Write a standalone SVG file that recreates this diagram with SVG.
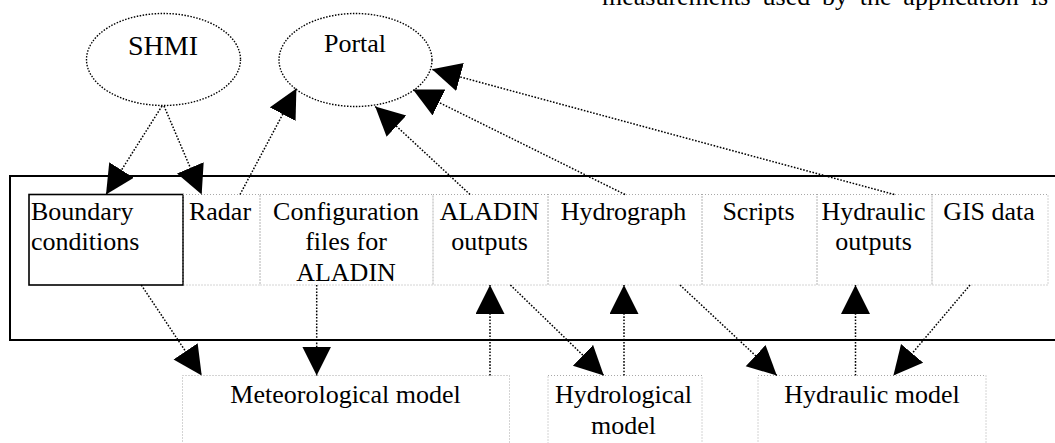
<svg xmlns="http://www.w3.org/2000/svg" width="1055" height="443" viewBox="0 0 1055 443">
<style>
text{font-family:"Liberation Serif","Times New Roman",serif;font-size:26px;fill:#000}
.c{text-anchor:middle}
.cell{fill:none;stroke:#a8a8a8;stroke-width:1;stroke-dasharray:1 2}
.ell{fill:none;stroke:#000;stroke-width:1.4;stroke-dasharray:1.5 1.5}
.edge{fill:none;stroke:#000;stroke-width:1.5;stroke-dasharray:1.6 1.6}
</style>
<defs>
<marker id="ah" markerUnits="userSpaceOnUse" markerWidth="30" markerHeight="30" viewBox="0 0 30 30" refX="29" refY="14.5" orient="auto">
<path d="M0,0 L29,14.5 L0,29 Z" fill="#000"/>
</marker>
</defs>
<rect x="0" y="0" width="1055" height="443" fill="#fff"/>
<text x="602" y="5" word-spacing="5.3">measurements used by the application is</text>
<rect id="container" x="10" y="176" width="1060" height="164" fill="none" stroke="#000" stroke-width="2"/>
<g id="shmi"><ellipse class="ell" cx="163.5" cy="59.5" rx="77" ry="46"/><text class="c" x="163" y="55" style="font-size:28px">SHMI</text></g>
<g id="portal"><ellipse class="ell" cx="355.5" cy="60" rx="76.5" ry="46.5"/><text class="c" x="355" y="51.5">Portal</text></g>
<g id="boundary"><rect x="29" y="194.5" width="154" height="90.5" fill="none" stroke="#000" stroke-width="1.6"/><text x="31" y="219.5">Boundary</text><text x="31" y="250">conditions</text></g>
<g id="radar"><rect class="cell" x="183" y="194.5" width="77" height="90.5"/><text class="c" x="220" y="219.5">Radar</text></g>
<g id="config"><rect class="cell" x="260" y="194.5" width="173" height="90.5"/><text class="c" x="346" y="219.5">Configuration</text><text class="c" x="346" y="250">files for</text><text class="c" x="346" y="280.5">ALADIN</text></g>
<g id="aladin-out"><rect class="cell" x="433" y="194.5" width="115" height="90.5"/><text class="c" x="489.5" y="219.5">ALADIN</text><text class="c" x="489.5" y="250">outputs</text></g>
<g id="hydrograph"><rect class="cell" x="548" y="194.5" width="154" height="90.5"/><text class="c" x="623.5" y="219.5">Hydrograph</text></g>
<g id="scripts"><rect class="cell" x="702" y="194.5" width="115" height="90.5"/><text class="c" x="758.5" y="219.5">Scripts</text></g>
<g id="hydraulic-out"><rect class="cell" x="817" y="194.5" width="115" height="90.5"/><text class="c" x="873.5" y="219.5">Hydraulic</text><text class="c" x="873.5" y="250">outputs</text></g>
<g id="gis"><rect class="cell" x="932" y="194.5" width="116" height="90.5"/><text class="c" x="989" y="219.5">GIS data</text></g>
<g id="meteo"><rect class="cell" x="182.5" y="375.5" width="327" height="90"/><text class="c" x="345.5" y="402.5">Meteorological model</text></g>
<g id="hydrological"><rect class="cell" x="548" y="375.5" width="154" height="90"/><text class="c" x="623.5" y="402.5">Hydrological</text><text class="c" x="623.5" y="433.5">model</text></g>
<g id="hydraulic-model"><rect class="cell" x="758" y="375.5" width="228" height="90"/><text class="c" x="872" y="402.5">Hydraulic model</text></g>
<g id="connectors">
<line class="edge" x1="162" y1="106" x2="106" y2="194.5" marker-end="url(#ah)"/>
<line class="edge" x1="164" y1="106" x2="201.7" y2="194.5" marker-end="url(#ah)"/>
<line class="edge" x1="240" y1="194.5" x2="296.4" y2="88.6" marker-end="url(#ah)"/>
<line class="edge" x1="470" y1="194.5" x2="375.2" y2="106.5" marker-end="url(#ah)"/>
<line class="edge" x1="625" y1="194.5" x2="413" y2="89.6" marker-end="url(#ah)"/>
<line class="edge" x1="894.3" y1="194.5" x2="432" y2="69.3" marker-end="url(#ah)"/>
<line class="edge" x1="141.3" y1="285" x2="201.7" y2="375.5" marker-end="url(#ah)"/>
<line class="edge" x1="316.7" y1="285" x2="316.7" y2="375.5" marker-end="url(#ah)"/>
<line class="edge" x1="490" y1="375.5" x2="490" y2="285" marker-end="url(#ah)"/>
<line class="edge" x1="510.4" y1="285" x2="603.8" y2="375.5" marker-end="url(#ah)"/>
<line class="edge" x1="624" y1="375.5" x2="624" y2="285" marker-end="url(#ah)"/>
<line class="edge" x1="680" y1="285" x2="776.8" y2="375.5" marker-end="url(#ah)"/>
<line class="edge" x1="855.5" y1="375.5" x2="855.5" y2="285" marker-end="url(#ah)"/>
<line class="edge" x1="970" y1="285" x2="893.4" y2="375.5" marker-end="url(#ah)"/>
</g>
</svg>
